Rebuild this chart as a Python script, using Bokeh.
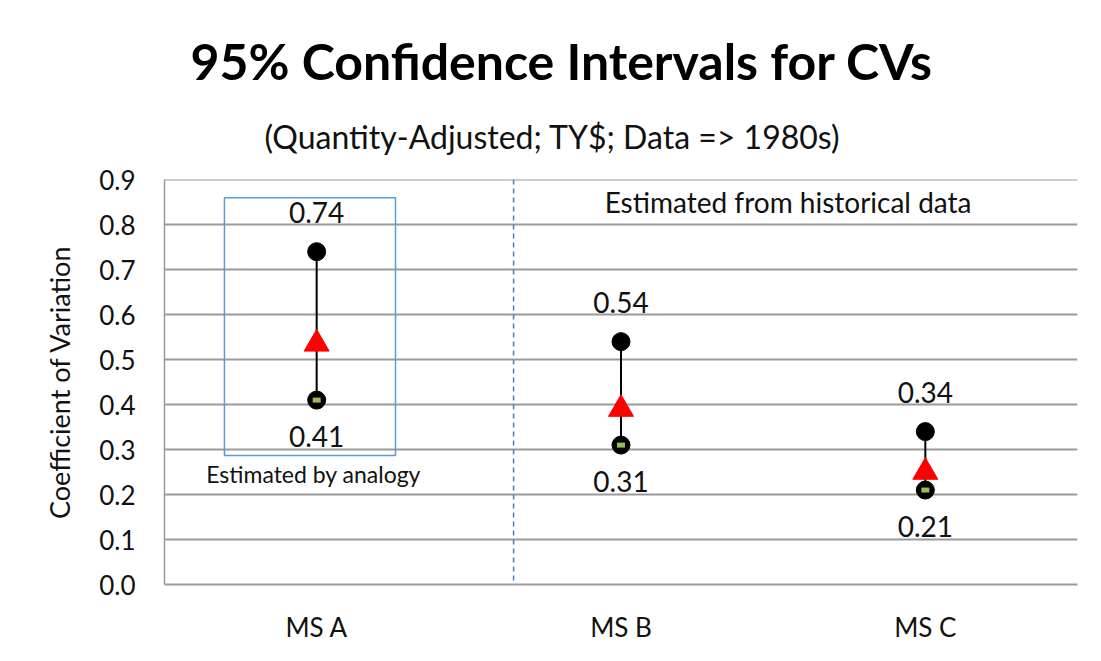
from bokeh.plotting import figure
from bokeh.models import Span, BoxAnnotation, Label, FixedTicker, ColumnDataSource, Title
from bokeh.core.properties import value
from bokeh.embed import file_html
from bokeh.resources import INLINE

categories = ["MS A", "MS B", "MS C"]
upper = [0.74, 0.54, 0.34]
lower = [0.41, 0.31, 0.21]
estimate = [0.535, 0.39, 0.25]
y_ticks = [0.0, 0.1, 0.2, 0.3, 0.4, 0.5, 0.6, 0.7, 0.8, 0.9]

xs = [i + 0.5 for i in range(len(categories))]
src = ColumnDataSource(dict(
    x=xs, upper=upper, lower=lower, estimate=estimate,
    up_txt=[f"{v:.2f}" for v in upper],
    lo_txt=[f"{v:.2f}" for v in lower],
))

FONT = "Lato"
GRID = "#9a9a9a"

p = figure(width=1085, height=645, x_range=(0, 3), y_range=(0, 0.9005),
           output_backend="svg", toolbar_location=None,
           min_border_left=164, min_border_right=8,
           min_border_top=179, min_border_bottom=58)
p.outline_line_color = None
p.background_fill_color = "white"

# titles
p.title = Title(text="95% Confidence Intervals for CVs", align="left",
                text_font=FONT, text_font_size="50px", text_font_style="bold",
                text_color="black", offset=26, standoff=0)
p.add_layout(Title(text="(Quantity-Adjusted; TY$; Data => 1980s)", align="left",
                   text_font=FONT, text_font_size="32px", text_font_style="normal",
                   text_color="#111111", offset=100, standoff=48), "above")

# axes
p.yaxis.ticker = FixedTicker(ticks=y_ticks)
p.yaxis.major_label_overrides = {t: f"{t:.1f}" for t in y_ticks}
p.yaxis.axis_line_color = GRID
p.yaxis.axis_line_width = 1.5
p.yaxis.major_tick_line_color = None
p.yaxis.minor_tick_line_color = None
p.yaxis.major_label_standoff = 23
p.yaxis.major_label_text_font = FONT
p.yaxis.major_label_text_font_size = "26px"
p.yaxis.major_label_text_color = "#111111"
p.yaxis.axis_label = "Coefficient of Variation"
p.yaxis.axis_label_text_font = FONT
p.yaxis.axis_label_text_font_size = "27px"
p.yaxis.axis_label_text_font_style = "normal"
p.yaxis.axis_label_text_color = "#111111"
p.yaxis.axis_label_standoff = 20

p.xaxis.ticker = FixedTicker(ticks=xs)
p.xaxis.major_label_overrides = {x: c for x, c in zip(xs, categories)}
p.xaxis.axis_line_color = GRID
p.xaxis.axis_line_width = 2
p.xaxis.major_tick_line_color = None
p.xaxis.minor_tick_line_color = None
p.xaxis.major_label_standoff = 20
p.xaxis.major_label_text_font = FONT
p.xaxis.major_label_text_font_size = "26px"
p.xaxis.major_label_text_color = "#111111"

p.xgrid.grid_line_color = None
p.ygrid.grid_line_color = GRID
p.ygrid.grid_line_width = 2

# divider
p.add_layout(Span(location=1.147, dimension="height", line_color="#4a7ebb",
                  line_dash="5 4", line_width=1.5))

# analogy box
p.add_layout(BoxAnnotation(left=0.197, right=0.759, bottom=0.287, top=0.86,
                           fill_color=None, fill_alpha=0, line_color="#5b9bd5",
                           line_alpha=1.0, line_width=1.5))

# intervals
p.segment(x0="x", y0="lower", x1="x", y1="upper", source=src,
          line_color="black", line_width=2)
p.scatter("x", "upper", source=src, size=18, color="black")
p.scatter("x", "lower", source=src, size=18, color="black")
p.rect(x="x", y="lower", width=8, height=5, width_units="screen", height_units="screen",
       source=src, fill_color="#9bbb59", line_color=None)
p.scatter("x", "estimate", source=src, marker="triangle", size=25, color="#ff0000")

p.text("x", "upper", text="up_txt", source=src, y_offset=-39,
       text_align="center", text_baseline="middle",
       text_font=value(FONT), text_font_size="28px", text_color="#111111")
p.text("x", "lower", text="lo_txt", source=src, y_offset=36,
       text_align="center", text_baseline="middle",
       text_font=value(FONT), text_font_size="28px", text_color="#111111")

# annotations
p.add_layout(Label(x=0.49, y=0.245, text="Estimated by analogy", text_align="center",
                   text_baseline="middle", text_font=FONT, text_font_size="23px",
                   text_color="#111111"))
p.add_layout(Label(x=2.049, y=0.851, text="Estimated from historical data", text_align="center",
                   text_baseline="middle", text_font=FONT, text_font_size="28px",
                   text_color="#111111"))

open("out.html", "w").write(file_html(p, INLINE))
